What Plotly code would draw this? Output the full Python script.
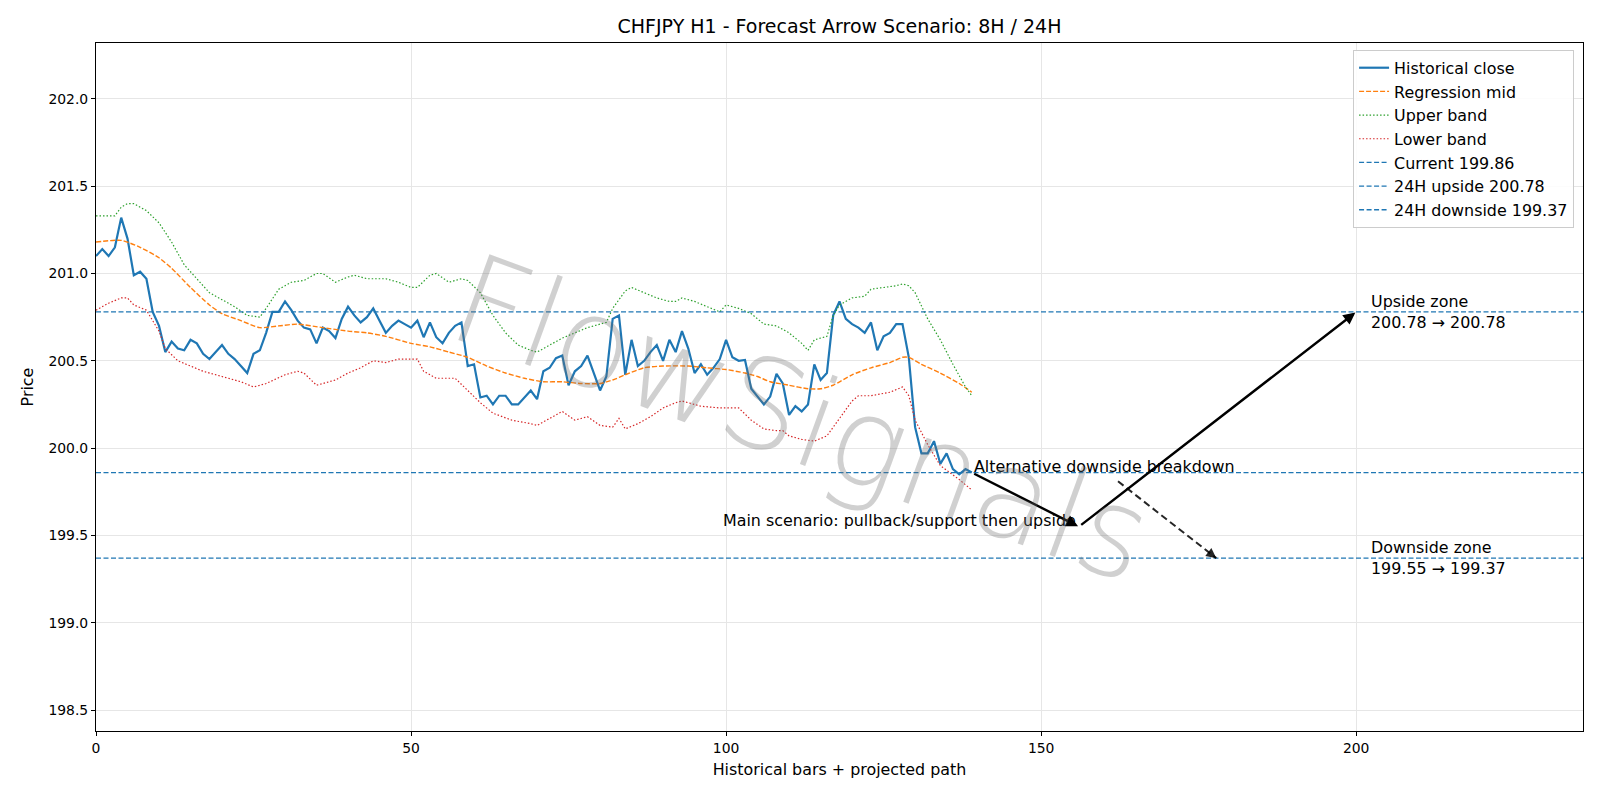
import plotly.graph_objects as go

# ---------------- data ----------------
bars = list(range(140))
close = [201.10, 201.14, 201.10, 201.15, 201.32, 201.20, 200.99, 201.01, 200.97, 200.78,
         200.70, 200.55, 200.61, 200.57, 200.56, 200.62, 200.60, 200.54, 200.51, 200.55,
         200.59, 200.54, 200.51, 200.47, 200.43, 200.54, 200.56, 200.66, 200.78, 200.78,
         200.84, 200.79, 200.73, 200.69, 200.68, 200.60, 200.69, 200.67, 200.63, 200.74,
         200.81, 200.76, 200.72, 200.75, 200.80, 200.73, 200.66, 200.70, 200.73, 200.71,
         200.69, 200.73, 200.635, 200.72, 200.635, 200.60, 200.66, 200.70, 200.72, 200.47,
         200.48, 200.29, 200.30, 200.25, 200.30, 200.30, 200.25, 200.25, 200.29, 200.33,
         200.28, 200.44, 200.46, 200.515, 200.53, 200.36, 200.44, 200.47, 200.53, 200.43,
         200.33, 200.41, 200.74, 200.76, 200.42, 200.62, 200.47, 200.50, 200.55, 200.59,
         200.50, 200.62, 200.55, 200.67, 200.57, 200.43, 200.48, 200.42, 200.46, 200.51,
         200.62, 200.52, 200.50, 200.505, 200.34, 200.295, 200.25, 200.295, 200.425, 200.37,
         200.19, 200.24, 200.21, 200.25, 200.48, 200.39, 200.43, 200.76, 200.84, 200.74,
         200.71, 200.69, 200.66, 200.72, 200.56, 200.64, 200.66, 200.71, 200.71, 200.52,
         200.12, 199.97, 199.97, 200.04, 199.91, 199.97, 199.88, 199.85, 199.88, 199.86]

mid_x = [0, 4, 7, 10, 12, 15, 18, 20, 23, 26, 29, 32, 36, 40, 43, 46, 50, 53, 56, 59, 62, 65,
         68, 71, 74, 77, 80, 82, 84, 87, 90, 94, 97, 100, 103, 105, 107, 110, 113, 115, 117,
         120, 123, 126, 128, 129, 131, 134, 137, 139]
mid_y = [201.18, 201.19, 201.15, 201.09, 201.03, 200.92, 200.82, 200.77, 200.73, 200.69,
         200.70, 200.71, 200.69, 200.67, 200.66, 200.64, 200.60, 200.58, 200.55, 200.52,
         200.47, 200.43, 200.40, 200.38, 200.38, 200.37, 200.37, 200.39, 200.42, 200.46,
         200.47, 200.47, 200.46, 200.45, 200.43, 200.41, 200.38, 200.36, 200.34, 200.34,
         200.36, 200.42, 200.46, 200.49, 200.52, 200.52, 200.48, 200.43, 200.37, 200.32]

up_x = [0, 3, 4, 5, 6, 8, 10, 12, 14, 16, 18, 20, 22, 24, 26, 27, 29, 31, 33, 35, 36, 38, 40,
        41, 43, 46, 48, 50, 51, 53, 54, 56, 58, 59, 61, 63, 65, 67, 69, 70, 72, 74, 76, 78,
        80, 81, 82, 84, 85, 87, 89, 91, 92, 93, 95, 97, 99, 100, 102, 104, 106, 108, 110,
        112, 113, 114, 116, 117, 118, 120, 122, 123, 125, 127, 128, 129, 130, 132, 134, 136,
        138, 139]
up_y = [201.33, 201.33, 201.38, 201.40, 201.40, 201.36, 201.29, 201.18, 201.05, 200.97,
        200.89, 200.85, 200.81, 200.76, 200.75, 200.80, 200.91, 200.95, 200.96, 201.00,
        201.00, 200.95, 200.98, 200.99, 200.97, 200.97, 200.95, 200.92, 200.92, 200.99,
        201.00, 200.95, 200.97, 200.96, 200.89, 200.76, 200.66, 200.59, 200.56, 200.55,
        200.59, 200.63, 200.66, 200.69, 200.71, 200.72, 200.80, 200.90, 200.92, 200.89,
        200.86, 200.84, 200.84, 200.86, 200.84, 200.81, 200.78, 200.82, 200.80, 200.77,
        200.71, 200.70, 200.66, 200.60, 200.56, 200.62, 200.64, 200.76, 200.82, 200.86,
        200.87, 200.91, 200.92, 200.93, 200.94, 200.93, 200.89, 200.74, 200.62, 200.48,
        200.35, 200.30]

lo_x = [0, 2, 4, 5, 6, 8, 10, 11, 13, 15, 17, 20, 23, 25, 27, 30, 32, 33, 35, 38, 40, 42, 44,
        46, 48, 51, 52, 54, 57, 59, 61, 63, 66, 69, 70, 72, 74, 76, 78, 80, 82, 83, 84, 86,
        88, 90, 92, 93, 96, 99, 102, 104, 106, 108, 109, 110, 112, 114, 116, 118, 120, 121,
        123, 126, 128, 129, 130, 132, 134, 137, 139]
lo_y = [200.79, 200.83, 200.86, 200.86, 200.82, 200.79, 200.67, 200.57, 200.50, 200.47,
        200.44, 200.41, 200.38, 200.35, 200.37, 200.42, 200.44, 200.43, 200.36, 200.39,
        200.43, 200.46, 200.50, 200.49, 200.51, 200.51, 200.44, 200.40, 200.40, 200.33,
        200.26, 200.20, 200.16, 200.14, 200.13, 200.17, 200.21, 200.16, 200.18, 200.13,
        200.12, 200.17, 200.11, 200.14, 200.18, 200.23, 200.26, 200.27, 200.24, 200.23,
        200.23, 200.16, 200.11, 200.10, 200.10, 200.07, 200.05, 200.04, 200.07, 200.17,
        200.27, 200.30, 200.30, 200.32, 200.35, 200.30, 200.16, 200.02, 199.90, 199.82,
        199.76]

current_price = 199.86
upside_24h = 200.78
downside_24h = 199.37
downside_8h = 199.55

# projected scenario path (bar, price)
main_path_x = [139, 156, 200]
main_path_y = [199.86, 199.55, 200.78]
alt_path_x = [162.2, 177.8]
alt_path_y = [199.81, 199.37]

x_range = [0, 236]
y_range = [198.38, 202.32]
x_ticks = [0, 50, 100, 150, 200]
y_ticks = [198.5, 199.0, 199.5, 200.0, 200.5, 201.0, 201.5, 202.0]

BLUE = "#1f77b4"
FONT = "DejaVu Sans"
LBL = 15.9

fig = go.Figure()

fig.add_trace(go.Scatter(x=bars, y=close, mode="lines", name="Historical close",
                         line=dict(color=BLUE, width=2.2)))
fig.add_trace(go.Scatter(x=mid_x, y=mid_y, mode="lines", name="Regression mid",
                         line=dict(color="#ff7f0e", width=1.4, dash="5px,2px", shape="spline", smoothing=0.6)))
fig.add_trace(go.Scatter(x=up_x, y=up_y, mode="lines", name="Upper band",
                         line=dict(color="#2ca02c", width=1.2, dash="1.5px,2px")))
fig.add_trace(go.Scatter(x=lo_x, y=lo_y, mode="lines", name="Lower band",
                         line=dict(color="#d62728", width=1.2, dash="1.5px,2px")))
for val, label in [(current_price, f"Current {current_price:.2f}"),
                   (upside_24h, f"24H upside {upside_24h:.2f}"),
                   (downside_24h, f"24H downside {downside_24h:.2f}")]:
    fig.add_trace(go.Scatter(x=x_range, y=[val, val], mode="lines", name=label,
                             line=dict(color=BLUE, width=1.3, dash="5px,2.5px")))

# alternative dashed path
fig.add_trace(go.Scatter(x=alt_path_x, y=alt_path_y, mode="lines", showlegend=False,
                         line=dict(color="rgba(0,0,0,0.85)", width=2, dash="7px,4px"),
                         hoverinfo="skip"))

annotations = []
# main scenario arrows
for i in range(len(main_path_x) - 1):
    annotations.append(dict(x=main_path_x[i + 1], y=main_path_y[i + 1],
                            ax=main_path_x[i], ay=main_path_y[i],
                            xref="x", yref="y", axref="x", ayref="y",
                            showarrow=True, arrowhead=2, arrowsize=1.0, arrowwidth=2.4,
                            arrowcolor="black", standoff=1, startstandoff=1, text=""))
# alternative arrow head
annotations.append(dict(x=alt_path_x[1], y=alt_path_y[1],
                        ax=alt_path_x[1] - 1.2, ay=alt_path_y[1] + 0.033,
                        xref="x", yref="y", axref="x", ayref="y",
                        showarrow=True, arrowhead=2, arrowsize=1.0, arrowwidth=2,
                        arrowcolor="rgba(0,0,0,0.85)", standoff=0, text=""))

# texts
txt_font = dict(family=FONT, size=LBL, color="black")
annotations.append(dict(x=main_path_x[0], y=current_price, xref="x", yref="y",
                        text="Alternative downside breakdown", showarrow=False,
                        xanchor="left", yanchor="bottom", yshift=-5, font=txt_font))
annotations.append(dict(x=99.2, y=downside_8h, xref="x", yref="y",
                        text="Main scenario: pullback/support then upside", showarrow=False,
                        xanchor="left", yanchor="bottom", yshift=-5, font=txt_font))
annotations.append(dict(x=202, y=upside_24h, xref="x", yref="y",
                        text=f"Upside zone<br>{upside_24h:.2f} → {upside_24h:.2f}", showarrow=False,
                        xanchor="left", yanchor="middle", align="left", font=txt_font))
annotations.append(dict(x=202, y=downside_24h, xref="x", yref="y",
                        text=f"Downside zone<br>{downside_8h:.2f} → {downside_24h:.2f}", showarrow=False,
                        xanchor="left", yanchor="middle", align="left", font=txt_font))
# watermark
annotations.append(dict(x=112, y=200.17, xref="x", yref="y", text="FlowSignals",
                        showarrow=False, textangle=20,
                        font=dict(family=FONT, size=125, weight=200, color="rgba(110,110,110,0.32)")))

fig.update_layout(
    width=1600, height=800,
    margin=dict(l=96, r=17, t=43, b=69),
    paper_bgcolor="white", plot_bgcolor="white",
    title=dict(text="CHFJPY H1 - Forecast Arrow Scenario: 8H / 24H", x=0.5, xref="paper",
               xanchor="center", y=1 - 26.5 / 800, yanchor="middle",
               font=dict(family=FONT, size=19, color="black")),
    font=dict(family=FONT, size=13.9, color="black"),
    showlegend=True,
    legend=dict(x=0.994, y=0.99, xanchor="right", yanchor="top",
                bgcolor="rgba(255,255,255,0.85)", bordercolor="#cccccc", borderwidth=1,
                font=dict(family=FONT, size=LBL), itemwidth=30, tracegroupgap=0),
    annotations=annotations,
    hovermode=False,
)
axis_common = dict(showline=True, linecolor="black", linewidth=1, mirror=True,
                   ticks="outside", ticklen=4, tickwidth=1, tickcolor="black",
                   showgrid=True, gridcolor="#e6e6e6", gridwidth=1, zeroline=False,
                   tickfont=dict(family=FONT, size=13.9, color="black"))
fig.update_xaxes(range=x_range, tickvals=x_ticks,
                 title=dict(text="Historical bars + projected path", font=dict(family=FONT, size=LBL), standoff=9),
                 **axis_common)
fig.update_yaxes(range=y_range, tickvals=y_ticks, tickformat=".1f",
                 title=dict(text="Price", font=dict(family=FONT, size=LBL), standoff=10),
                 **axis_common)

fig.write_html("out.html")
